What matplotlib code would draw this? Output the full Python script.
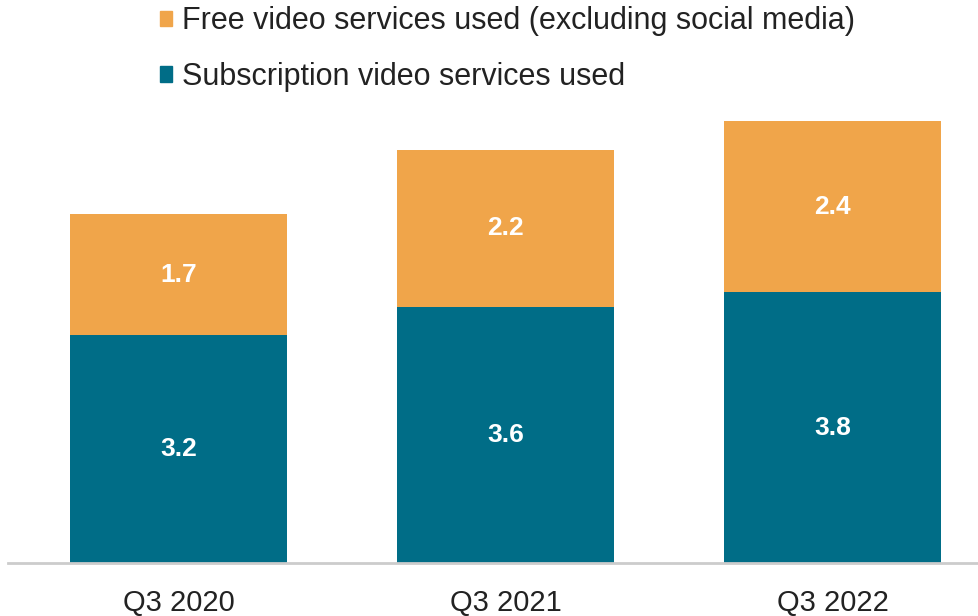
import numpy as np
import matplotlib.pyplot as plt
from matplotlib.patches import Patch

# Average number of video services used per person
quarters = ["Q3 2020", "Q3 2021", "Q3 2022"]
subscription = [3.2, 3.6, 3.8]
free = [1.7, 2.2, 2.4]

TEAL = "#006d87"
ORANGE = "#f0a54a"

plt.rcParams['font.family'] = ['Liberation Sans', 'DejaVu Sans']

fig = plt.figure(figsize=(9.79, 6.16), dpi=100)
ax = fig.add_axes([8/979, 53/616, 971/979, 463/616])

x = np.arange(len(quarters))
w = 0.664
ax.bar(x, subscription, w, color=TEAL)
ax.bar(x, free, w, bottom=subscription, color=ORANGE)

for i in range(len(x)):
    ax.text(x[i], subscription[i]/2, f"{subscription[i]:.1f}", ha='center', va='center',
            color='white', fontsize=19, fontweight='bold')
    ax.text(x[i], subscription[i] + free[i]/2, f"{free[i]:.1f}", ha='center', va='center',
            color='white', fontsize=19, fontweight='bold')

ax.set_xlim(-0.521, 2.448)
ax.set_ylim(0, 6.5)
ax.set_xticks(x)
ax.set_xticklabels(quarters, fontsize=21, color='#222222')
ax.tick_params(axis='x', length=0, pad=19)
ax.set_yticks([])
for s in ['top', 'right', 'left']:
    ax.spines[s].set_visible(False)
ax.spines['bottom'].set_color('#cccccc')
ax.spines['bottom'].set_linewidth(2)

handles = [Patch(color=ORANGE, label="Free video services used (excluding social media)"),
           Patch(color=TEAL, label="Subscription video services used")]
fig.legend(handles=handles, loc='upper left', bbox_to_anchor=(160/979, 0.99), frameon=False,
           fontsize=22, handlelength=0.4, handleheight=0.4, handletextpad=0.33,
           labelspacing=0.85, borderpad=0, borderaxespad=0, labelcolor='#222222')

fig.savefig("out.png", dpi=100)
